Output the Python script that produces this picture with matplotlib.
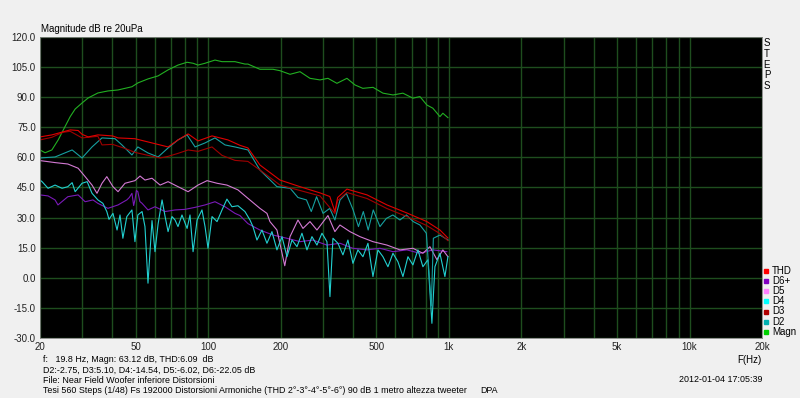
import numpy as np
import matplotlib
matplotlib.use('Agg')
import matplotlib.pyplot as plt
from matplotlib.lines import Line2D
from matplotlib.ticker import FixedLocator, NullFormatter

plt.rcParams['font.family'] = ['Liberation Sans', 'DejaVu Sans']

# --- data (Hz, dB) ---
magn_f = [20, 21, 22.4, 23.8, 25.4, 26.7, 28, 29.9, 31.7, 34.8, 38.3, 42.2, 48.2, 51, 56.2, 61.9,
          68.1, 74.9, 81.7, 86.5, 90.7, 97, 106.7, 114.1, 129.2, 142.1, 146.2, 164, 185.8, 198.7,
          218.7, 240.6, 264.7, 291.3, 314.4, 342.6, 377, 407, 439, 484, 532, 586, 644, 709, 758,
          810, 858, 918, 944, 991]
magn_db = [63.7, 62.3, 63.7, 68.7, 75.3, 80.3, 84.1, 87.1, 89.6, 92.1, 93.1, 93.6, 95.2, 97.1, 99.1,
           100.6, 103.6, 106.0, 107.4, 106.9, 106.0, 106.9, 108.5, 107.7, 107.7, 106.5, 106.5, 103.9,
           103.9, 103.2, 101.4, 102.7, 99.4, 98.6, 99.4, 96.9, 99.4, 96.1, 94.4, 94.9, 92.0, 91.1,
           92.0, 89.5, 90.3, 86.1, 84.5, 80.3, 82.0, 79.8]

thd_f = [20, 22.4, 24.9, 26.7, 28.8, 29.9, 31.7, 34.8, 40, 42.2, 49.6, 58.4, 68.1, 74.9, 82.5, 90.7,
         103.7, 120.8, 135.5, 146.2, 164, 198.7, 240.6, 291.3, 320, 336, 345, 377, 457, 553, 669,
         810, 918, 991]
thd_db = [70.2, 71.2, 72.7, 73.7, 73.4, 71.5, 70.2, 71.2, 70.7, 69.7, 69.3, 67.2, 65.2, 68.7, 71.7,
          68.2, 70.7, 68.7, 66.0, 64.7, 56.2, 48.7, 45.4, 42.3, 40.5, 33.0, 40.0, 44.2, 41.3, 36.3,
          32.3, 28.0, 23.8, 19.8]

d3_f = [20, 22.4, 24.9, 26.7, 29.9, 34.8, 36.2, 40, 45, 49.6, 56.2, 63.1, 68.1, 74.9, 82.5, 90.7,
        103.7, 114.1, 129.2, 146.2, 164, 198.7, 240.6, 291.3, 336, 345, 377, 457, 553, 669, 810,
        918, 991]
d3_db = [68.7, 70.0, 72.5, 73.0, 69.7, 70.5, 66.2, 66.5, 64.5, 62.5, 61.0, 59.7, 60.5, 62.0, 63.7,
         63.0, 65.2, 61.0, 58.5, 58.0, 53.7, 46.2, 43.5, 40.8, 32.0, 38.5, 42.5, 39.5, 34.5, 30.5,
         26.0, 22.0, 18.5]

d2_f = [20, 23.1, 27.2, 29.9, 32.9, 36.2, 41, 43.8, 48.2, 51, 56.2, 61.9, 68.1, 74.9, 81.7, 88.2,
        97, 106.7, 117.4, 129.2, 146.2, 164, 193, 219, 236, 256, 268, 282, 300, 320, 336, 353, 375,
        400, 421, 441, 462, 485, 517, 550, 585, 626, 666, 711, 758, 806, 845, 862, 918, 993]
d2_db = [59.7, 60.2, 63.7, 59.7, 65.2, 69.7, 69.3, 66.2, 61.2, 65.2, 62.2, 60.2, 64.7, 68.7, 71.2,
         65.2, 67.2, 69.7, 66.2, 65.2, 63.7, 53.7, 45.4, 44.6, 40.0, 38.8, 33.0, 40.4, 32.1, 34.6,
         28.8, 38.8, 42.1, 33.8, 25.5, 33.0, 23.8, 33.8, 25.5, 29.6, 31.3, 28.8, 31.3, 28.0, 26.3,
         22.2, -14.0, 19.7, 21.3, 18.8]

d4_f = [20, 20.4, 21.6, 23.1, 24.7, 26.1, 27.2, 28, 29.9, 31.4, 32.9, 34.8, 36.5, 37.9, 38.7, 40.2,
        41.8, 43, 44.2, 45.9, 48.2, 49.6, 51, 53.1, 54.6, 56.2, 58.4, 60.1, 61.9, 64.3, 66.2, 68.1,
        70.7, 72.8, 74.9, 77.8, 81.7, 84, 86.5, 89.9, 94.2, 97, 99.8, 103.7, 108.8, 114.1, 119.6,
        125.5, 132.9, 142.1, 149.1, 153.4, 159.4, 167.2, 175.4, 184, 193, 202.5, 212.5, 222.9,
        233.8, 245.2, 257.2, 269.8, 283, 296.9, 311.4, 320.5, 329.8, 345.9, 362.9, 380.6, 399.3,
        418.9, 439.4, 461, 483.6, 507.3, 532.1, 558.2, 585.6, 614.2, 644.3, 675.9, 708.9, 743.6,
        780, 818.2, 850.1, 874.9, 917.7, 962.7, 990.7]
d4_db = [48.7, 47.9, 44.6, 46.2, 44.6, 45.4, 47.4, 42.9, 47.1, 47.9, 42.1, 38.8, 37.1, 33.0, 29.1,
         32.1, 23.8, 31.3, 19.7, 30.5, 33.8, 18.0, 31.3, 33.0, 25.5, -2.7, 28.5, 13.0, 26.8, 38.8,
         30.5, 23.0, 30.5, 28.8, 25.5, 31.3, 24.6, 31.3, 13.0, 28.8, 33.8, 25.5, 14.7, 30.5, 28.0,
         33.8, 39.2, 35.4, 35.9, 33.0, 28.8, 25.5, 18.8, 23.8, 17.2, 23.0, 13.9, 20.5, 10.5, 18.8,
         15.5, 22.2, 13.9, 20.5, 16.3, 22.2, 18.0, -9.4, 19.7, 17.2, 11.4, 18.8, 7.2, 13.9, 10.5,
         17.2, 0.6, 13.9, 10.5, 5.5, 12.2, 8.0, 0.6, 10.5, 6.4, 13.9, 5.5, 9.0, -22.7, 5.5, 12.2,
         0.6, 10.5]

d5_f = [20, 23.1, 26.1, 28.8, 30.8, 32.9, 34.5, 36.2, 37.9, 40.2, 42.2, 45.1, 49.6, 52.1, 54.6,
        58.4, 63.1, 68.1, 74.9, 82.5, 90.7, 98.9, 108.8, 119.6, 132.9, 146.2, 164, 175.4, 180.5,
        193, 208, 218.7, 236, 247.6, 264.7, 283, 314.4, 336, 352.6, 388, 427, 483.6, 552.9, 626,
        709, 780, 834, 892, 944, 991]
d5_db = [58.4, 57.4, 56.7, 54.6, 50.4, 46.2, 42.1, 47.1, 50.4, 45.4, 42.9, 47.1, 48.4, 50.7, 48.7,
         49.6, 46.2, 47.9, 45.4, 42.9, 46.2, 48.4, 47.1, 46.2, 43.8, 39.6, 34.6, 32.1, 28.0, 23.8,
         6.0, 20.5, 28.8, 24.6, 28.0, 23.8, 31.0, 23.0, 26.3, 23.0, 20.5, 18.0, 16.3, 13.9, 14.7,
         12.2, 15.5, 9.0, 13.9, 10.5]

d6_f = [20, 21.6, 23.1, 23.75, 26.1, 28.8, 30.8, 33.2, 34.8, 38.3, 42.2, 45.9, 47, 48.2, 49,
        49.6, 50.3, 51, 52, 53.1, 56.2, 60.1, 66.2, 72.8, 80.1, 88.2, 97, 106.7, 117.4, 129.2,
        135.5, 146.2, 164, 186, 212, 241, 272, 311, 353, 399, 457, 517, 586, 669, 758, 858, 981]
d6_db = [41.3, 40.8, 38.8, 36.3, 40.4, 41.3, 37.9, 38.8, 37.1, 34.6, 36.3, 38.8, 40.0, 42.1, 36.0,
         38.8, 43.5, 42.9, 38.0, 37.1, 33.8, 35.4, 33.0, 33.8, 34.1, 35.1, 36.3, 37.9, 35.4, 32.1,
         31.0, 27.0, 23.8, 21.3, 19.7, 18.0, 18.8, 16.3, 17.2, 14.7, 13.9, 14.7, 13.0, 13.9, 12.2,
         13.9, 13.0]

legend_names = ['THD', 'D6+', 'D5', 'D4', 'D3', 'D2', 'Magn']
legend_colors = ['#ff0000', '#8000c0', '#ff80ff', '#00ffff', '#b00000', '#00b0b0', '#00d000']

x_ticks = [20, 50, 100, 200, 500, 1000, 2000, 5000, 10000, 20000]
x_tick_labels = ['20', '50', '100', '200', '500', '1k', '2k', '5k', '10k', '20k']
y_ticks = np.arange(-30, 121, 15)

fig = plt.figure(figsize=(8, 3.98), dpi=100, facecolor='#f0f0f0')
ax = fig.add_axes([0.05, 0.1508, 0.9025, 0.7563])
ax.set_facecolor('black')

lw = 0.8
ax.plot(magn_f, magn_db, color='#22b022', lw=lw)
ax.plot(d6_f, d6_db, color='#7a1ab8', lw=lw)
ax.plot(d5_f, d5_db, color='#d47ad4', lw=lw)
ax.plot(d4_f, d4_db, color='#22d0d0', lw=lw)
ax.plot(d2_f, d2_db, color='#16a0a0', lw=lw)
ax.plot(d3_f, d3_db, color='#a00000', lw=lw)
ax.plot(thd_f, thd_db, color='#e00000', lw=lw)

ax.set_xscale('log')
ax.set_xlim(20, 20000)
ax.set_ylim(-30, 120)
ax.xaxis.set_major_locator(FixedLocator(x_ticks))
ax.set_xticklabels(x_tick_labels)
ax.xaxis.set_minor_locator(FixedLocator([m * d for d in (10, 100, 1000, 10000) for m in range(1, 10)]))
ax.xaxis.set_minor_formatter(NullFormatter())
ax.set_yticks(y_ticks)
ax.set_yticklabels(['%.1f' % v for v in y_ticks])
ax.grid(True, which='both', color='#1e4d1e', lw=1)
ax.tick_params(which='both', length=0, labelsize=7, colors='#222222', pad=3)
for s in ax.spines.values():
    s.set_color('#808080')
    s.set_linewidth(0.6)

fs = 7
fs_info = 6.4
fig.text(41 / 800, 1 - 29 / 398, 'Magnitude dB re 20uPa', fontsize=fs, va='center', ha='left')
fig.text(767 / 800, 1 - 38 / 398, 'S\nT\nE\nP\nS', fontsize=fs, va='top', ha='center', linespacing=1.1)
fig.text(762 / 800, 1 - 360 / 398, 'F(Hz)', fontsize=fs, va='center', ha='right')

for i, (name, col) in enumerate(zip(legend_names, legend_colors)):
    yy = 1 - (270.7 + i * 10.2) / 398
    fig.add_artist(Line2D([766 / 800], [yy], transform=fig.transFigure, marker='s',
                          markersize=3, color=col, linestyle='none'))
    fig.text(772 / 800, yy, name, fontsize=fs, va='center', ha='left')

info = ['f:   19.8 Hz, Magn: 63.12 dB, THD:6.09  dB',
        'D2:-2.75, D3:5.10, D4:-14.54, D5:-6.02, D6:-22.05 dB',
        'File: Near Field Woofer inferiore Distorsioni',
        'Tesi 560 Steps (1/48) Fs 192000 Distorsioni Armoniche (THD 2°-3°-4°-5°-6°) 90 dB 1 metro altezza tweeter']
for i, line in enumerate(info):
    fig.text(43 / 800, 1 - (359.5 + i * 10.4) / 398, line, fontsize=fs_info, va='center', ha='left')
fig.text(480 / 800, 1 - 390.7 / 398, 'DPA', fontsize=fs_info, va='center', ha='left')
fig.text(762 / 800, 1 - 380 / 398, '2012-01-04 17:05:39', fontsize=fs_info, va='center', ha='right')

fig.savefig('out.png', dpi=100, facecolor=fig.get_facecolor())
